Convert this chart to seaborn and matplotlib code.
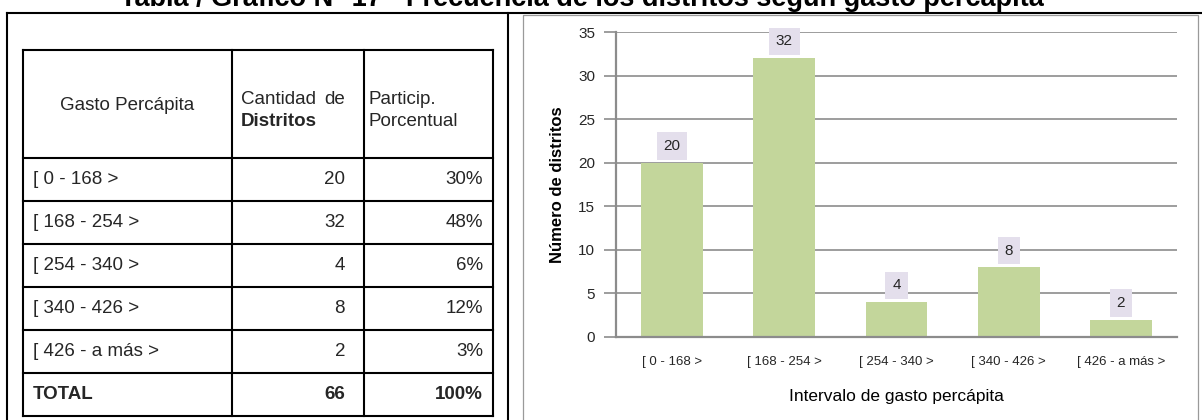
import matplotlib
matplotlib.use("Agg")
import matplotlib.pyplot as plt
import seaborn as sns
import pandas as pd
from matplotlib.patches import Rectangle

# ---------------- data ----------------
title = "Tabla / Gráfico N° 17 - Frecuencia de los distritos según gasto percápita"
intervalos = ["[ 0 - 168 >", "[ 168 - 254 >", "[ 254 - 340 >", "[ 340 - 426 >", "[ 426 - a más >"]
cantidad = [20, 32, 4, 8, 2]
participacion = ["30%", "48%", "6%", "12%", "3%"]
total_label = "TOTAL"
total_cantidad = "66"
total_participacion = "100%"
y_ticks = [0, 5, 10, 15, 20, 25, 30, 35]
header_col1 = "Gasto Percápita"
header_col2 = ("Cantidad", "de", "Distritos")
header_col3 = ("Particip.", "Porcentual")
y_label = "Número de distritos"
x_label = "Intervalo de gasto percápita"

# ---------------- style ----------------
sns.set_theme(style="white")
plt.rcParams["font.family"] = ["Liberation Sans", "DejaVu Sans"]

W, H = 1202, 420
fig = plt.figure(figsize=(W / 100, H / 100), dpi=100)
fig.patch.set_facecolor("white")

# overlay axes in pixel coordinates (for frames and table)
ov = fig.add_axes([0, 0, 1, 1], zorder=0)
ov.set_xlim(0, W)
ov.set_ylim(H, 0)
ov.axis("off")

BLK = "#000000"
LW = 1.5  # ~2px

def hline(y, x0, x1, **kw):
    ov.plot([x0, x1], [y, y], color=kw.get("color", BLK), lw=kw.get("lw", LW),
            solid_capstyle="projecting")

def vline(x, y0, y1, **kw):
    ov.plot([x, x], [y0, y1], color=kw.get("color", BLK), lw=kw.get("lw", LW),
            solid_capstyle="projecting")

# title (top clipped like the reference)
ov.text(582, 6, title, ha="center", va="baseline", fontsize=19.5, fontweight="bold",
        color="#000000")

# outer black frame of the page region
hline(13, 7, W + 5)
vline(7, 13, H + 5)
vline(508, 13, H + 5)

# ---------------- table ----------------
tx0, tx1, tx2, tx3 = 23, 232, 364, 493
ty_top, ty_head = 50, 158
row_h = 43
n_rows = len(intervalos) + 1
ty_bot = ty_head + row_h * n_rows
for y in [ty_top, ty_head] + [ty_head + row_h * k for k in range(1, n_rows)] + [ty_bot]:
    hline(y, tx0, tx3)
for x in [tx0, tx1, tx2, tx3]:
    vline(x, ty_top, ty_bot)

fs_tab = 13.5
ov.text((tx0 + tx1) / 2, 105, header_col1, ha="center", va="center", fontsize=fs_tab)
ov.text(tx1 + 9, 99, header_col2[0], ha="left", va="center", fontsize=fs_tab)
ov.text(tx2 - 19, 99, header_col2[1], ha="right", va="center", fontsize=fs_tab)
ov.text(tx1 + 9, 122, header_col2[2], ha="left", va="center", fontsize=fs_tab,
        fontweight="bold")
ov.text(tx2 + 5, 99, header_col3[0], ha="left", va="center", fontsize=fs_tab)
ov.text(tx2 + 5, 122, header_col3[1], ha="left", va="center", fontsize=fs_tab)

rows = list(zip(intervalos, [str(c) for c in cantidad], participacion))
rows.append((total_label, total_cantidad, total_participacion))
for k, (a, b, c) in enumerate(rows):
    yc = ty_head + row_h * (k + 0.5)
    fw = "bold" if k == n_rows - 1 else "normal"
    ov.text(tx0 + 10, yc, a, ha="left", va="center", fontsize=fs_tab, fontweight=fw)
    ov.text(tx2 - 19, yc, b, ha="right", va="center", fontsize=fs_tab, fontweight=fw)
    ov.text(tx3 - 10, yc, c, ha="right", va="center", fontsize=fs_tab, fontweight=fw)

# ---------------- chart ----------------
GR = "#8C8C8C"
ov.add_patch(Rectangle((523, 15), 1198 - 523, H + 10, fill=False, ec="#9A9A9A", lw=0.9))

ax_l, ax_r, ax_t, ax_b = 616, 1177, 32, 337
ax = fig.add_axes([ax_l / W, 1 - ax_b / H, (ax_r - ax_l) / W, (ax_b - ax_t) / H], zorder=1)
ax.patch.set_alpha(0)

df = pd.DataFrame({"Intervalo": intervalos, "Distritos": cantidad})
sns.barplot(data=df, x="Intervalo", y="Distritos", color="#C3D69B", saturation=1,
            width=0.55, ax=ax, edgecolor="none")
ax.set_xlim(-0.5, len(intervalos) - 0.5)
ax.set_ylim(0, 35)
ax.set_yticks(y_ticks)
ax.yaxis.grid(True, color=GR, lw=1.2)
ax.xaxis.grid(False)
ax.set_axisbelow(True)
for s in ["top", "right"]:
    ax.spines[s].set_visible(False)
for s in ["left", "bottom"]:
    ax.spines[s].set_color(GR)
    ax.spines[s].set_linewidth(1.6)
ax.tick_params(axis="y", which="major", left=True, length=9, width=1.2, color=GR,
               pad=6, labelsize=11, labelcolor="#262626")
ax.tick_params(axis="x", which="major", bottom=False, length=0, pad=14,
               labelsize=9.5, labelcolor="#262626")

for cont in ax.containers:
    ax.bar_label(cont, padding=7, fontsize=11, color="#262626",
                 bbox=dict(boxstyle="square,pad=0.45", fc="#E4DFEC", ec="none"))

ax.set_ylabel(y_label, fontsize=12, fontweight="bold", color="#000000")
ax.yaxis.set_label_coords((557 - ax_l) / (ax_r - ax_l), 0.5)
ax.yaxis.label.set_va("center")
ax.set_xlabel(x_label, fontsize=12.5, color="#000000")
ax.xaxis.set_label_coords(0.5, -(397 - ax_b) / (ax_b - ax_t))
ax.xaxis.label.set_va("center")

fig.savefig("out.png", dpi=100, facecolor="white")
